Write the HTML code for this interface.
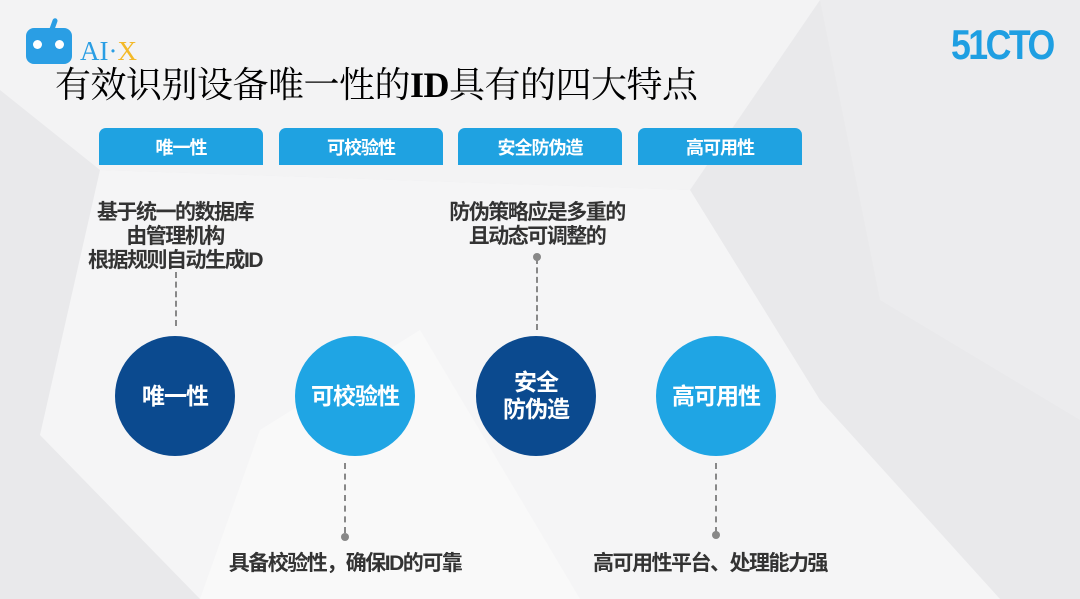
<!DOCTYPE html>
<html><head><meta charset="utf-8"><style>
body{margin:0;width:1080px;height:599px;overflow:hidden;position:relative;font-family:"Liberation Sans","Noto Sans CJK SC",sans-serif;background:#e9e9eb}
.a{position:absolute}
.tab{position:absolute;top:128px;width:164px;height:37px;background:#1fa2e1;border-radius:7px 7px 0 0;color:#fff;font-size:18px;font-weight:bold;text-align:center;line-height:40px;letter-spacing:-1px}
.c{position:absolute;width:120px;height:120px;border-radius:50%;color:#fff;font-weight:bold;font-size:23px;display:flex;align-items:center;justify-content:center;text-align:center;line-height:27px;letter-spacing:-1px}
.dk{background:#0b4a8f}.lt{background:#1fa5e4}
.txt{position:absolute;color:#333;font-weight:bold;font-size:21px;text-align:center;line-height:24px;letter-spacing:-1.5px}
.dl{position:absolute;width:0;border-left:2px dashed #888}
.dot{position:absolute;width:8px;height:8px;border-radius:50%;background:#888}
</style></head><body>
<svg class="a" style="left:0;top:0" width="1080" height="599">
<polygon points="0,0 830,0 1080,120 1080,0" fill="#f1f1f2"/>
<polygon points="0,0 820,0 690,190 100,170 0,90" fill="#f3f3f4"/>
<polygon points="100,170 690,190 820,400 1000,599 200,599 40,435" fill="#f5f5f6"/>
<polygon points="260,430 420,330 580,599 200,599" fill="#f9f9f9"/>
<polygon points="820,0 1080,0 1080,420 880,300" fill="#ececee"/>
</svg>
<div class="a" style="left:26px;top:28px;width:46px;height:36px;background:#2a9ee4;border-radius:8px"></div>
<div class="a" style="left:51px;top:18px;width:5px;height:14px;background:#2a9ee4;border-radius:3px;transform:rotate(20deg)"></div>
<div class="a" style="left:33px;top:40px;width:9px;height:9px;background:#fff;border-radius:50%"></div>
<div class="a" style="left:55px;top:40px;width:9px;height:9px;background:#fff;border-radius:50%"></div>
<div class="a" style="left:80px;top:36px;font-family:'Liberation Serif',serif;font-size:27px;line-height:30px"><span style="color:#2a9ee4">AI·</span><span style="color:#f3b928">X</span></div>
<div class="a" style="left:951px;top:22px;font-family:'Liberation Sans',sans-serif;font-weight:bold;font-size:42px;color:#1f9fe2;letter-spacing:-3px;transform:scaleX(0.85);transform-origin:left;line-height:46px">51CTO</div>
<div class="a" style="left:55px;top:64px;font-family:'Liberation Serif','Noto Serif CJK SC',serif;font-size:36px;color:#000;line-height:42px;letter-spacing:-0.5px">有效识别设备唯一性的<b>ID</b>具有的四大特点</div>
<div class="tab" style="left:99px">唯一性</div>
<div class="tab" style="left:279px">可校验性</div>
<div class="tab" style="left:458px">安全防伪造</div>
<div class="tab" style="left:638px">高可用性</div>
<div class="txt" style="left:55px;top:201px;width:240px">基于统一的数据库<br>由管理机构<br>根据规则自动生成ID</div>
<div class="txt" style="left:417px;top:201px;width:240px">防伪策略应是多重的<br>且动态可调整的</div>
<div class="dl" style="left:175px;top:272px;height:54px"></div>
<div class="dot" style="left:533px;top:253px"></div>
<div class="dl" style="left:536px;top:258px;height:72px"></div>
<div class="c dk" style="left:115px;top:336px">唯一性</div>
<div class="c lt" style="left:295px;top:336px">可校验性</div>
<div class="c dk" style="left:476px;top:336px">安全<br>防伪造</div>
<div class="c lt" style="left:656px;top:336px">高可用性</div>
<div class="dl" style="left:344px;top:463px;height:70px"></div>
<div class="dot" style="left:341px;top:533px"></div>
<div class="dl" style="left:715px;top:463px;height:70px"></div>
<div class="dot" style="left:712px;top:531px"></div>
<div class="txt" style="left:195px;top:552px;width:300px">具备校验性，确保ID的可靠</div>
<div class="txt" style="left:560px;top:552px;width:300px">高可用性平台、处理能力强</div>
</body></html>
